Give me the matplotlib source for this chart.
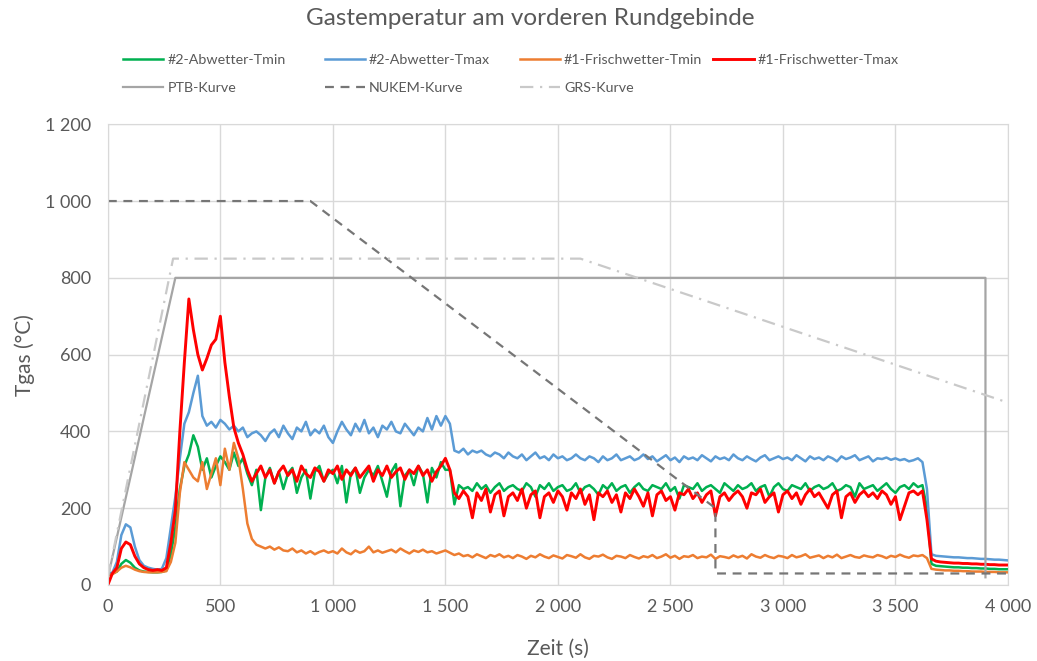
#!/usr/bin/env python3
from __future__ import annotations

import matplotlib

matplotlib.use("Agg")
import matplotlib.pyplot as plt
import numpy as np
from matplotlib.ticker import FuncFormatter, MultipleLocator

# time axis of the measured series: one value every 20 s, 0 ... 4000 s
time_s = np.arange(0, 4001, 20)

abwetter_tmin = [
    28, 30, 35, 55, 65, 58, 45, 38, 35, 34,
    33, 33, 34, 38, 80, 150, 250, 310, 340, 390,
    360, 300, 330, 280, 310, 335, 320, 300, 345, 310,
    330, 290, 260, 300, 195, 280, 305, 265, 295, 250,
    290, 305, 240, 280, 300, 225, 295, 310, 270, 290,
    300, 265, 310, 215, 290, 305, 240, 280, 300, 285,
    310, 270, 230, 295, 315, 205, 285, 300, 260, 310,
    290, 215, 305, 280, 320, 300, 300, 210, 260, 250,
    255, 245, 265, 250, 260, 240, 255, 265, 245, 255,
    260, 250, 245, 265, 255, 230, 260, 250, 265, 245,
    255, 260, 245, 250, 265, 240, 255, 260, 250, 235,
    260, 250, 265, 245, 255, 260, 240, 255, 265, 250,
    245, 260, 255, 250, 265, 245, 255, 225, 260, 255,
    250, 265, 245, 255, 260, 250, 240, 265, 255, 245,
    260, 250, 255, 265, 245, 255, 260, 230, 255, 265,
    250, 245, 260, 255, 250, 265, 245, 255, 260, 250,
    255, 265, 245, 250, 260, 255, 230, 265, 250, 255,
    260, 245, 255, 265, 250, 240, 255, 260, 250, 265,
    255, 260, 200, 55, 50, 49, 48, 47, 46, 46,
    45, 45, 44, 44, 43, 43, 42, 42, 41, 41,
    41,
]

abwetter_tmax = [
    30, 32, 60, 130, 158, 150, 100, 65, 50, 45,
    42, 40, 42, 70, 150, 230, 330, 420, 450, 500,
    545, 440, 415, 425, 410, 430, 420, 405, 415, 400,
    410, 385, 395, 400, 390, 375, 395, 405, 385, 415,
    395, 380, 410, 400, 425, 390, 405, 395, 415, 385,
    370, 400, 425, 405, 390, 420, 400, 430, 395, 410,
    385, 415, 405, 425, 400, 395, 420, 405, 390, 410,
    400, 435, 405, 440, 415, 440, 420, 350, 345, 355,
    340, 350, 345, 350, 340, 335, 345, 340, 330, 345,
    335, 330, 340, 325, 335, 345, 330, 335, 325, 340,
    330, 335, 325, 330, 340, 330, 325, 335, 330, 320,
    335, 325, 330, 340, 325, 330, 335, 325, 330, 340,
    328, 335, 322, 330, 338, 325, 332, 320, 335, 328,
    332, 325, 338, 330, 322, 335, 328, 332, 325, 340,
    330, 325, 335, 328, 322, 332, 338, 325, 330, 335,
    328, 332, 325, 338, 330, 322, 335, 328, 332, 325,
    335, 330, 322, 335, 328, 332, 338, 325, 330, 335,
    322, 330, 328, 332, 326, 330, 325, 328, 322, 325,
    330, 320, 250, 80, 76, 75, 74, 73, 72, 72,
    71, 70, 70, 69, 68, 68, 67, 66, 66, 65,
    64,
]

frischwetter_tmin = [
    25, 28, 35, 45, 50, 46, 40, 36, 34, 33,
    33, 33, 34, 36, 60, 110, 240, 320, 300, 280,
    270, 320, 250, 290, 330, 260, 355, 300, 370, 330,
    250, 160, 120, 105, 100, 95, 100, 92, 98, 90,
    88, 95, 85, 90, 82, 88, 80, 86, 90, 84,
    88, 82, 95, 85, 80, 90, 84, 88, 100, 85,
    90, 84, 88, 92, 85, 95, 88, 82, 90, 86,
    92, 85, 88, 82, 86, 90, 84, 78, 82, 75,
    78, 72, 80, 75, 70, 78, 74, 80, 72, 76,
    70, 78, 74, 68, 76, 72, 80, 74, 70, 77,
    73, 69, 78, 75, 71, 80, 72, 68, 76, 74,
    79, 72, 68, 76, 74, 70, 78, 73, 69, 75,
    72, 78, 70, 74, 80, 71, 76, 68, 75, 73,
    78, 70, 74, 72, 79, 68, 75, 73, 70, 77,
    72, 76, 69, 80, 74, 71, 78, 73, 70, 76,
    74, 70, 78, 72, 75, 80, 71, 74, 77, 70,
    76, 72, 79, 70, 74, 78, 73, 71, 77, 74,
    72, 78, 75, 70, 76, 73, 79, 74, 71, 77,
    75, 78, 70, 42, 40, 39, 38, 38, 37, 37,
    36, 36, 35, 35, 35, 34, 34, 34, 33, 33,
    33,
]

frischwetter_tmax = [
    0, 30, 45, 95, 112, 105, 75, 55, 45, 40,
    38, 40, 38, 45, 110, 195, 400, 580, 745, 665,
    600, 560, 590, 625, 640, 700, 580, 490, 410, 370,
    340, 300, 270, 290, 310, 280, 300, 265, 295, 310,
    285, 300, 270, 310, 290, 280, 305, 295, 270, 300,
    290, 310, 275, 300, 285, 305, 280, 295, 310, 270,
    300, 285, 310, 280, 295, 305, 275, 300, 290, 310,
    285, 300, 270, 295, 310, 330, 300, 240, 225, 245,
    230, 175, 240, 220, 250, 190, 235, 245, 180, 230,
    240, 220, 250, 200, 235, 245, 175, 230, 240, 215,
    245, 230, 195, 240, 225, 250, 210, 235, 170, 240,
    230, 245, 215, 235, 190, 240, 225, 250, 230, 205,
    240, 180, 235, 245, 220, 230, 195, 240, 235, 250,
    225, 240, 215, 235, 245, 180, 230, 240, 220, 235,
    245, 230, 200, 240, 235, 250, 215, 230, 240, 190,
    235, 245, 225, 240, 210, 235, 250, 230, 240, 220,
    200, 235, 245, 175, 230, 240, 215, 235, 245, 230,
    240, 225, 245, 235, 210, 230, 170, 205, 240, 245,
    235, 245, 170, 68, 62, 60, 59, 58, 57, 57,
    56, 56, 55, 55, 54, 54, 53, 53, 52, 52,
    52,
]

# reference fire curves (corner points)
ptb_t = [0, 300, 3900, 3900]
ptb_temp = [20, 800, 800, 20]
nukem_t = [0, 900, 2700, 2700, 4000]
nukem_temp = [1000, 1000, 200, 30, 30]
grs_t = [0, 290, 2100, 4000]
grs_temp = [20, 850, 850, 475]

series = [
    ("#2-Abwetter-Tmin", abwetter_tmin, "#00b050", 1.8),
    ("#2-Abwetter-Tmax", abwetter_tmax, "#5b9bd5", 1.8),
    ("#1-Frischwetter-Tmin", frischwetter_tmin, "#ed7d31", 1.8),
    ("#1-Frischwetter-Tmax", frischwetter_tmax, "#ff0000", 2.1),
]

TEXT_GREY = "#595959"
GRID_GREY = "#d9d9d9"


def thousands(value, _pos):
    return f"{int(value):,}".replace(",", " ")


def main() -> None:
    plt.rcParams["font.family"] = ["Lato", "DejaVu Sans"]

    fig = plt.figure(figsize=(10.37, 6.61), dpi=100)
    ax = fig.add_axes([0.104, 0.115, 0.868, 0.697])

    handles = []
    for label, values, color, width in series:
        (line,) = ax.plot(time_s, values, color=color, linewidth=width, label=label)
        handles.append(line)

    (ptb,) = ax.plot(ptb_t, ptb_temp, color="#a5a5a5", linewidth=1.6, label="PTB-Kurve")
    (nukem,) = ax.plot(
        nukem_t, nukem_temp, color="#767676", linewidth=1.6, linestyle=(0, (4, 3)), label="NUKEM-Kurve"
    )
    (grs,) = ax.plot(
        grs_t, grs_temp, color="#c9c9c9", linewidth=1.6, linestyle=(0, (6, 3, 1, 3)), label="GRS-Kurve"
    )

    ax.set_xlim(0, 4000)
    ax.set_ylim(0, 1200)
    ax.xaxis.set_major_locator(MultipleLocator(500))
    ax.yaxis.set_major_locator(MultipleLocator(200))
    ax.xaxis.set_major_formatter(FuncFormatter(thousands))
    ax.yaxis.set_major_formatter(FuncFormatter(thousands))
    ax.grid(color=GRID_GREY, linewidth=1.0)
    ax.set_axisbelow(True)
    for spine in ax.spines.values():
        spine.set_color(GRID_GREY)
    ax.tick_params(length=0, labelsize=13, labelcolor=TEXT_GREY)
    ax.tick_params(axis="x", pad=10)
    ax.tick_params(axis="y", pad=12)

    ax.set_xlabel("Zeit (s)", fontsize=15, color=TEXT_GREY, labelpad=17)
    ax.set_ylabel("Tgas (°C)", fontsize=15, color=TEXT_GREY, labelpad=7)

    fig.text(0.511, 0.972, "Gastemperatur am vorderen Rundgebinde", ha="center", va="center",
             fontsize=17.5, color=TEXT_GREY)

    # Excel spaces the legend columns evenly, so one small legend per column
    columns = [
        ([handles[0], ptb], 0.119),
        ([handles[1], nukem], 0.313),
        ([handles[2], grs], 0.501),
        ([handles[3]], 0.688),
    ]
    for col_handles, x_left in columns:
        fig.legend(
            col_handles,
            [h.get_label() for h in col_handles],
            ncol=1,
            loc="upper left",
            bbox_to_anchor=(x_left, 0.918),
            frameon=False,
            fontsize=10.3,
            handlelength=2.8,
            handletextpad=0.3,
            labelspacing=1.1,
            labelcolor=TEXT_GREY,
            borderpad=0.0,
            borderaxespad=0.0,
        )

    fig.savefig("out.png", dpi=100)
    plt.close(fig)


if __name__ == "__main__":
    main()
